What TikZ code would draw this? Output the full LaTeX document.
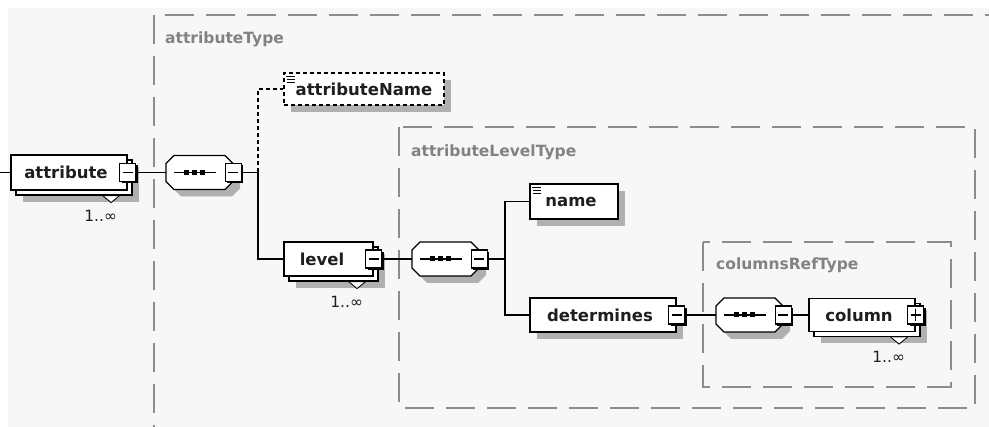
\documentclass[tikz,border=0pt]{standalone}
\usepackage{fontspec}
\setmainfont{DejaVu Sans}
\usetikzlibrary{shadows,calc}

\definecolor{paper}{RGB}{247,247,247}
\definecolor{shadowgray}{RGB}{176,176,176}
\definecolor{frame}{RGB}{140,140,140}
\definecolor{typetext}{RGB}{130,130,130}
\definecolor{ink}{RGB}{30,30,30}

\tikzset{
  conn/.style={line width=1.2pt, draw=black},
  typebox/.style={draw=frame, line width=1.8pt, dash pattern=on 29pt off 12pt},
  typelabel/.style={anchor=west, inner sep=0pt, text=typetext,
    font=\fontsize{15.5}{18}\selectfont\bfseries},
  elbase/.style={rectangle, draw=black, line width=1.2pt, fill=white, inner sep=0pt,
    text=ink, font=\fontsize{16.5}{19}\selectfont\bfseries},
  single/.style={elbase, drop shadow={shadow xshift=7pt, shadow yshift=-7pt,
    fill=shadowgray, opacity=1}},
  multi/.style={elbase,
    drop shadow={shadow xshift=12pt, shadow yshift=-12pt, fill=shadowgray, opacity=1},
    copy shadow={shadow xshift=5pt, shadow yshift=-5pt, fill=white, draw=black,
      line width=1.2pt}},
  optional/.style={dash pattern=on 4pt off 3pt},
  seqspot/.style={rectangle, draw=none, inner sep=0pt, minimum width=67pt,
    minimum height=34pt},
  togglebox/.style={rectangle, draw=black, line width=1.4pt, fill=white,
    inner sep=0pt, minimum width=16pt, minimum height=18pt,
    drop shadow={shadow xshift=2pt, shadow yshift=-2pt, fill=black, opacity=1}},
  minusbox/.style={togglebox, path picture={
    \draw[line width=1.1pt] ([xshift=3pt]path picture bounding box.west)
      -- ([xshift=-3pt]path picture bounding box.east);}},
  plusbox/.style={togglebox, path picture={
    \draw[line width=1.1pt] ([xshift=3pt]path picture bounding box.west)
      -- ([xshift=-3pt]path picture bounding box.east);
    \draw[line width=1.1pt] ([yshift=-3pt]path picture bounding box.north)
      -- ([yshift=3pt]path picture bounding box.south);}},
  occlabel/.style={inner sep=0pt, text=ink, font=\fontsize{15.5}{18}\selectfont},
}

% sequence compositor: octagon with shadow and the three-dot bar
\newcommand\seqgroup[3]{%
  \node[seqspot] (#1) at (#2,#3) {};
  \fill[shadowgray] ({#2-25.5+7},{#3-17+7}) -- ({#2+25.5+7},{#3-17+7})
    -- ({#2+33.5+7},{#3-9+7}) -- ({#2+33.5+7},{#3+9+7})
    -- ({#2+25.5+7},{#3+17+7}) -- ({#2-25.5+7},{#3+17+7})
    -- ({#2-33.5+7},{#3+9+7}) -- ({#2-33.5+7},{#3-9+7}) -- cycle;
  \draw[fill=white, line width=1.2pt] ({#2-25.5},{#3-17}) -- ({#2+25.5},{#3-17})
    -- ({#2+33.5},{#3-9}) -- ({#2+33.5},{#3+9})
    -- ({#2+25.5},{#3+17}) -- ({#2-25.5},{#3+17})
    -- ({#2-33.5},{#3+9}) -- ({#2-33.5},{#3-9}) -- cycle;
  \draw[line width=1.2pt] ({#2-25.5},{#3}) -- ({#2+16.5},{#3});
  \fill ({#2-15.5},{#3-2.5}) rectangle ({#2-10.5},{#3+2.5});
  \fill ({#2-7.5},{#3-2.5}) rectangle ({#2-2.5},{#3+2.5});
  \fill ({#2+0.5},{#3-2.5}) rectangle ({#2+5.5},{#3+2.5});
}

% document icon in the top left corner of a simple element
\newcommand\docicon[1]{%
  \draw[line width=0.9pt] ($(#1.north west)+(3,4)$) -- +(9,0)
    ($(#1.north west)+(4,7)$) -- +(8,0)
    ($(#1.north west)+(4,10)$) -- +(8,0);
}

% occurrence marker and label under a repeated element
\newcommand\occurs[1]{%
  \fill[white] ($(#1.south east)+(-25,5.7)$) -- ($(#1.south east)+(-16.5,12)$)
    -- ($(#1.south east)+(-8,5.7)$) -- cycle;
  \draw[line width=0.9pt] ($(#1.south east)+(-25,5)$) -- ($(#1.south east)+(-16.5,12)$)
    -- ($(#1.south east)+(-8,5)$);
  \node[occlabel] (#1-occ) at ($(#1.south east)+(-27,25)$) {1..∞};
}

\begin{document}
\begin{tikzpicture}[x=1pt,y=-1pt]
  \useasboundingbox (0,0) rectangle (989,427);
  \clip (0,0) rectangle (989,427);
  \fill[paper] (0,0) rectangle (989,427);
  \fill[white] (0,0) rectangle (989,8);
  \fill[white] (0,0) rectangle (8,427);

  % complex type frames
  \draw[typebox] (154,15) rectangle (1010,450);
  \node[typelabel] (t-attr) at (165,39) {attributeType};
  \draw[typebox] (399,127) rectangle (975,408);
  \node[typelabel] (t-level) at (411,152) {attributeLevelType};
  \draw[typebox] (703,242) rectangle (951,387);
  \node[typelabel] (t-cols) at (716,265) {columnsRefType};

  % elements
  \node[multi, minimum width=116pt, minimum height=35pt] (attr) at (69,172.5) {attribute\kern6pt};
  \node[minusbox] (attrm) at (attr.east) {};
  \occurs{attr}

  \seqgroup{seq1}{199.5}{172.5}
  \node[minusbox] (seq1m) at (seq1.east) {};

  \node[single, optional, minimum width=160pt, minimum height=32pt] (attrname) at (364,89) {attributeName};
  \docicon{attrname}

  \node[multi, minimum width=89pt, minimum height=34pt] (level) at (328.5,259) {level\kern13pt};
  \node[minusbox] (levelm) at (level.east) {};
  \occurs{level}

  \seqgroup{seq2}{445.5}{259}
  \node[minusbox] (seq2m) at (seq2.east) {};

  \node[single, minimum width=88pt, minimum height=35pt] (name) at (574,201.5) {name\kern6pt};
  \docicon{name}

  \node[single, minimum width=146pt, minimum height=34pt] (det) at (603,315) {determines\kern6pt};
  \node[minusbox] (detm) at (det.east) {};

  \seqgroup{seq3}{749.5}{315}
  \node[minusbox] (seq3m) at (seq3.east) {};

  \node[multi, minimum width=106pt, minimum height=33pt] (column) at (862,315) {column\kern6pt};
  \node[plusbox] (columnm) at (column.east) {};
  \occurs{column}

  % connectors
  \coordinate (entry) at (0,172.5);
  \coordinate (fork1) at (258,172.5);
  \coordinate (fork2) at (505,259);
  \draw[conn] (entry) -- (attr.west);
  \draw[conn] (attrm.east) -- (seq1.west);
  \draw[conn] (seq1m.east) -- (fork1) |- (level.west);
  \draw[conn, optional] (fork1) |- (attrname.west);
  \draw[conn] (levelm.east) -- (seq2.west);
  \draw[conn] (seq2m.east) -- (fork2) |- (name.west);
  \draw[conn] (fork2) |- (det.west);
  \draw[conn] (detm.east) -- (seq3.west);
  \draw[conn] (seq3m.east) -- (column.west);
\end{tikzpicture}
\end{document}
